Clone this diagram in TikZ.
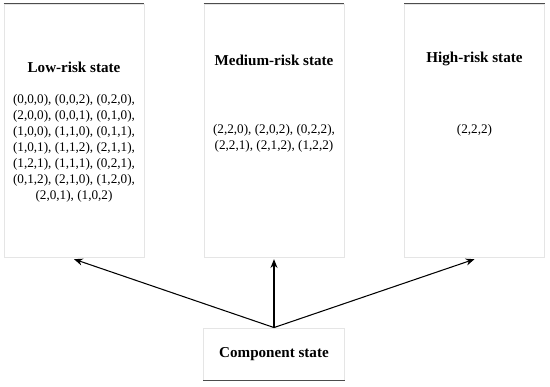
\documentclass[tikz,border=0pt]{standalone}
\usepackage{fontspec}
\setmainfont{Liberation Serif}
\usepackage{tkz-euclide}
\usetikzlibrary{arrows.meta}

\tikzset{
    statebox/.style={draw=gray!20, line width=0.5pt, minimum width=2.8cm, minimum height=5.06cm, inner sep=0pt},
    compbox/.style={draw=gray!20, line width=0.5pt, minimum width=2.82cm, minimum height=1.04cm, inner sep=0pt, font=\fontsize{8.6}{10}\selectfont\bfseries},
    edgeline/.style={line width=0.8pt, gray!60!black},
    boxtitle/.style={font=\fontsize{8.6}{10}\selectfont\bfseries},
    statelist/.style={align=center, font=\fontsize{7.5}{9.1}\selectfont},
    link/.style={line width=0.6pt, -{Stealth[length=5pt,width=4pt]}}
}

\begin{document}
\begin{tikzpicture}
    \useasboundingbox (0,0) rectangle (11,7.74);
    \tkzDefPoints{1.48/5.13/L,5.48/5.13/M,9.49/5.13/H,5.48/0.66/C}
    \node[statebox] (low) at (L) {};
    \node[statebox] (med) at (M) {};
    \node[statebox] (high) at (H) {};
    \node[compbox] (comp) at (C) {Component state};
    \foreach \b in {low,med,high}{
        \draw[edgeline] (\b.north west) -- (\b.north east);
    }
    \draw[edgeline] (comp.south west) -- (comp.south east);
    \node[boxtitle] (lowtitle) at (1.48,6.40) {Low-risk state};
    \node[boxtitle] (medtitle) at (5.48,6.54) {Medium-risk state};
    \node[boxtitle] (hightitle) at (9.49,6.56) {High-risk state};
    \node[statelist] (lowlist) at (1.48,4.77) {(0,0,0), (0,0,2), (0,2,0),\\
        (2,0,0), (0,0,1), (0,1,0),\\ (1,0,0), (1,1,0), (0,1,1),\\
        (1,0,1), (1,1,2), (2,1,1),\\ (1,2,1), (1,1,1), (0,2,1),\\
        (0,1,2), (2,1,0), (1,2,0),\\ (2,0,1), (1,0,2)};
    \node[statelist] (medlist) at (5.48,4.98) {(2,2,0), (2,0,2), (0,2,2),\\
        (2,2,1), (2,1,2), (1,2,2)};
    \node[statelist] (highlist) at (9.49,5.14) {(2,2,2)};
    \foreach \b in {low,med,high}{
        \draw[link] (comp.north) -- ([yshift=-1pt]\b.south);
    }
\end{tikzpicture}
\end{document}
